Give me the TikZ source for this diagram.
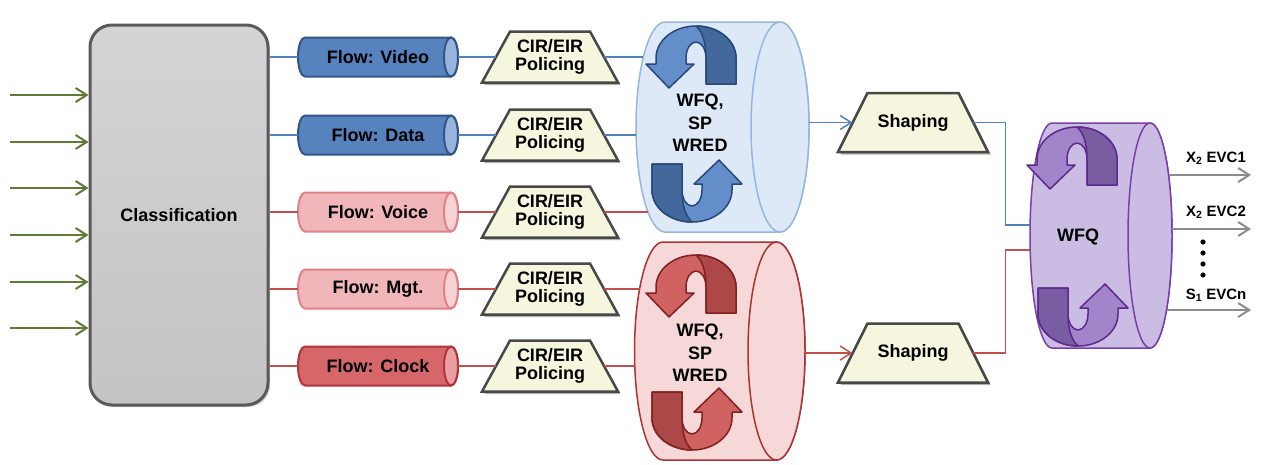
\documentclass[tikz,border=0pt]{standalone}
\usepackage{fontspec}
\setmainfont{Liberation Sans}
\usetikzlibrary{shapes.geometric,arrows.meta,shadows,calc}

\definecolor{grn}{RGB}{94,122,52}
\definecolor{bline}{RGB}{79,129,189}
\definecolor{rline}{RGB}{192,80,77}
\definecolor{gline}{RGB}{140,140,140}
\definecolor{clsdraw}{RGB}{90,90,90}
\definecolor{clstop}{RGB}{212,212,212}
\definecolor{clsbot}{RGB}{196,196,196}
\definecolor{vidfill}{RGB}{86,130,190}
\definecolor{vidend}{RGB}{150,180,220}
\definecolor{viddraw}{RGB}{50,85,135}
\definecolor{pinkfill}{RGB}{240,182,186}
\definecolor{pinkend}{RGB}{247,210,212}
\definecolor{pinkdraw}{RGB}{222,130,136}
\definecolor{clkfill}{RGB}{214,102,106}
\definecolor{clkend}{RGB}{234,160,162}
\definecolor{clkdraw}{RGB}{176,52,56}
\definecolor{trapfill}{RGB}{246,246,222}
\definecolor{trapdraw}{RGB}{72,72,72}
\definecolor{bqfill}{RGB}{221,233,246}
\definecolor{bqdraw}{RGB}{150,182,222}
\definecolor{bal}{RGB}{100,142,202}
\definecolor{bad}{RGB}{66,104,156}
\definecolor{bab}{RGB}{40,72,122}
\definecolor{rqfill}{RGB}{246,216,216}
\definecolor{rqdraw}{RGB}{168,52,52}
\definecolor{ral}{RGB}{208,98,98}
\definecolor{rad}{RGB}{172,72,72}
\definecolor{rab}{RGB}{128,32,32}
\definecolor{pqfill}{RGB}{202,188,226}
\definecolor{pqdraw}{RGB}{122,64,170}
\definecolor{pal}{RGB}{162,132,202}
\definecolor{pad}{RGB}{122,92,162}
\definecolor{pab}{RGB}{92,42,140}

% cylinder lying on its side: #1 left-end centre x, #2 centre y, #3 length, #4 end x radius, #5 end y radius, #6 body style, #7 end style
\newcommand\qcyl[7]{%
  \pgfmathsetmacro\qa{0.5523*#4}\pgfmathsetmacro\qb{0.5523*#5}%
  \begin{scope}[shift={(#1,#2)}]
    \path[#6] (0,-#5) -- (#3,-#5) .. controls ({#3+\qa},-#5) and ({#3+#4},-\qb) .. ({#3+#4},0)
      .. controls ({#3+#4},\qb) and ({#3+\qa},#5) .. (#3,#5) -- (0,#5)
      .. controls (-\qa,#5) and (-#4,\qb) .. (-#4,0) .. controls (-#4,-\qb) and (-\qa,-#5) .. (0,-#5) -- cycle;
    \path[#7] (#3,0) ellipse [x radius=#4, y radius=#5];
  \end{scope}}

% circular ribbon arrow: #1 x, #2 y, #3 rotation, #4 light, #5 dark, #6 border
\newcommand\cycarrow[6]{%
  \begin{scope}[shift={(#1,#2)}, rotate=#3, line width=1.5pt, line join=round]
    \path[fill=#4, draw=#6] (40,26) -- (40,0) .. controls (40,-17.7) and (22.1,-32) .. (0,-32)
      .. controls (-22.1,-32) and (-40,-17.7) .. (-40,0) -- (-40,6) -- (-50,6) -- (-27,30) -- (-2,6) -- (-10,6) -- (-10,0)
      .. controls (-10,-8.8) and (-5.5,-16) .. (0,-16) .. controls (5.5,-16) and (10,-8.8) .. (10,0) -- (10,26) -- cycle;
    \path[fill=#5, draw=#6] (0,-32) .. controls (22.1,-32) and (40,-17.7) .. (40,0) -- (40,26) -- (10,26) -- (10,0)
      .. controls (10,-14) and (7,-26) .. (0,-32) -- cycle;
  \end{scope}}

% trapezoid box: #1 name, #2 x, #3 y, #4 bottom half width, #5 top half width, #6 half height, #7 text
\newcommand\trapz[7]{%
  \begin{scope}[shift={(#2,#3)}]
    \fill[black, opacity=0.3] ({-#4+2.5},{#6+2.5}) -- ({#4+2.5},{#6+2.5}) -- ({#5+2.5},{-#6+2.5}) -- ({-#5+2.5},{-#6+2.5}) -- cycle;
    \path[fill=trapfill, draw=trapdraw, line width=2.5pt, line join=miter] (-#4,#6) -- (#4,#6) -- (#5,-#6) -- (-#5,-#6) -- cycle;
  \end{scope}
  \pgfmathsetmacro\trw{#4+#5}\pgfmathsetmacro\trh{2*#6}%
  \node[lbl, minimum width=\trw pt, minimum height=\trh pt] (#1) at (#2,#3) {#7};}

\begin{document}
\begin{tikzpicture}[x=1pt,y=-1pt,
  lbl/.style={font=\bfseries\fontsize{18}{18}\selectfont, text=black, align=center, inner sep=0pt},
  qlbl/.style={font=\bfseries\fontsize{18}{22.5}\selectfont, text=black, align=center, inner sep=0pt},
  olbl/.style={font=\bfseries\fontsize{15}{17}\selectfont, text=black, inner sep=0pt},
  flowtxt/.style={lbl, minimum width=160pt, minimum height=39pt},
  bl/.style={draw=bline, line width=1.5pt},
  rl/.style={draw=rline, line width=1.5pt},
  tip/.style={-{Straight Barb[length=11pt,width=14pt]}},
  grnarrow/.style={draw=grn, line width=2pt, tip},
  outarrow/.style={draw=gline, line width=2pt, tip}
]
\fill[white] (0,0) rectangle (1264,464);
\useasboundingbox (0,0) rectangle (1264,464);

% classification
\node[draw=clsdraw, line width=3pt, rounded corners=22pt, top color=clstop, bottom color=clsbot,
  minimum width=178pt, minimum height=380pt, drop shadow={shadow xshift=2pt, shadow yshift=-2pt, opacity=0.35}, lbl]
  (cls) at (179,215) {Classification};

% input arrows
\foreach \i/\y in {1/95,2/142,3/188,4/235,5/282,6/328}{
  \coordinate (in\i) at (10,\y);
  \draw[grnarrow] (in\i) -- (in\i -| cls.west);
}

% flow cylinders
\qcyl{305}{57}{146}{7}{19.5}{fill=vidfill, draw=viddraw, line width=2pt}{fill=vidend, draw=viddraw, line width=2pt}
\node[flowtxt] (fvid) at (378,57) {Flow: Video};
\qcyl{305}{135}{146}{7}{19.5}{fill=vidfill, draw=viddraw, line width=2pt}{fill=vidend, draw=viddraw, line width=2pt}
\node[flowtxt] (fdat) at (378,135) {Flow: Data};
\qcyl{305}{212}{146}{7}{19.5}{fill=pinkfill, draw=pinkdraw, line width=2pt}{fill=pinkend, draw=pinkdraw, line width=2pt}
\node[flowtxt] (fvoi) at (378,212) {Flow: Voice};
\qcyl{305}{289}{146}{7}{19.5}{fill=pinkfill, draw=pinkdraw, line width=2pt}{fill=pinkend, draw=pinkdraw, line width=2pt}
\node[flowtxt] (fmgt) at (378,289) {Flow: Mgt.};
\qcyl{305}{366}{146}{7}{19.5}{fill=clkfill, draw=clkdraw, line width=2pt}{fill=clkend, draw=clkdraw, line width=2pt}
\node[flowtxt] (fclk) at (378,366) {Flow: Clock};

% policing
\trapz{pvid}{550}{57}{68}{40}{25.5}{CIR/EIR\\Policing}
\trapz{pdat}{550}{135}{68}{40}{25.5}{CIR/EIR\\Policing}
\trapz{pvoi}{550}{212}{68}{40}{25.5}{CIR/EIR\\Policing}
\trapz{pmgt}{550}{289}{68}{40}{25.5}{CIR/EIR\\Policing}
\trapz{pclk}{550}{366}{68}{40}{25.5}{CIR/EIR\\Policing}

% queues
\qcyl{665}{127}{115}{29}{105}{fill=bqfill, draw=bqdraw, line width=1.5pt}{fill=bqfill, draw=bqdraw, line width=1.5pt}
\cycarrow{696}{58}{0}{bal}{bad}{bab}
\cycarrow{692}{190}{180}{bal}{bad}{bab}
\node[qlbl] (bq) at (700,123) {WFQ,\\SP\\WRED};

\qcyl{663}{351}{113.5}{28.5}{109}{fill=rqfill, draw=rqdraw, line width=1.5pt}{fill=rqfill, draw=rqdraw, line width=1.5pt}
\cycarrow{696}{287}{0}{ral}{rad}{rab}
\cycarrow{692}{418}{180}{ral}{rad}{rab}
\node[qlbl] (rq) at (700,353) {WFQ,\\SP\\WRED};

\qcyl{1052}{235.5}{98}{22}{112.5}{fill=pqfill, draw=pqdraw, line width=1.5pt}{fill=pqfill, draw=pqdraw, line width=1.5pt}
\cycarrow{1077}{159}{0}{pal}{pad}{pab}
\cycarrow{1078}{314}{180}{pal}{pad}{pab}
\node[qlbl] (pq) at (1078,237) {WFQ};

% queue ports
\coordinate (bqi1) at (643.4,57);
\coordinate (bqi2) at (636.1,135);
\coordinate (bqi3) at (648,212);
\coordinate (rqi1) at (639.6,289);
\coordinate (rqi2) at (634.8,366);
\coordinate (bqo) at (809,122.5);
\coordinate (rqo) at (805,353);
\coordinate (pqi1) at (1030,225);
\coordinate (pqi2) at (1030,250);

% shaping
\trapz{shb}{913}{122.5}{75}{45.5}{29.5}{Shaping}
\trapz{shr}{913}{353}{75}{45.5}{29.5}{Shaping}

% connectors
\draw[bl] (fvid.west -| cls.east) -- (fvid.west);
\draw[bl] (fdat.west -| cls.east) -- (fdat.west);
\draw[rl] (fvoi.west -| cls.east) -- (fvoi.west);
\draw[rl] (fmgt.west -| cls.east) -- (fmgt.west);
\draw[rl] (fclk.west -| cls.east) -- (fclk.west);

\draw[bl] (fvid.east) -- (pvid.west);
\draw[bl] (fdat.east) -- (pdat.west);
\draw[rl] (fvoi.east) -- (pvoi.west);
\draw[rl] (fmgt.east) -- (pmgt.west);
\draw[rl] (fclk.east) -- (pclk.west);

\draw[bl] (pvid.east) -- (bqi1);
\draw[bl] (pdat.east) -- (bqi2);
\draw[rl] (pvoi.east) -- (bqi3);
\draw[rl] (pmgt.east) -- (rqi1);
\draw[rl] (pclk.east) -- (rqi2);

\draw[bl, tip] (bqo) -- (shb.west);
\draw[rl, tip] (rqo) -- (shr.west);
\draw[bl] (shb.east) -- ++(32,0) |- (pqi1);
\draw[rl] (shr.east) -- ++(32,0) |- (pqi2);

% outputs
\coordinate (o1s) at (1168.5,175); \coordinate (o1e) at (1251,175);
\coordinate (o2s) at (1172,229);   \coordinate (o2e) at (1251,229);
\coordinate (o3s) at (1166.5,310); \coordinate (o3e) at (1251,310);
\draw[outarrow] (o1s) -- (o1e);
\draw[outarrow] (o2s) -- (o2e);
\draw[outarrow] (o3s) -- (o3e);
\node[olbl] (l1) at (1216,158) {X\textsubscript{2} EVC1};
\node[olbl] (l2) at (1216,212) {X\textsubscript{2} EVC2};
\node[olbl] (l3) at (1216,295) {S\textsubscript{1} EVCn};
\foreach \y in {242,253,264,275} \fill (1203,\y) circle (2.6);
\end{tikzpicture}
\end{document}
